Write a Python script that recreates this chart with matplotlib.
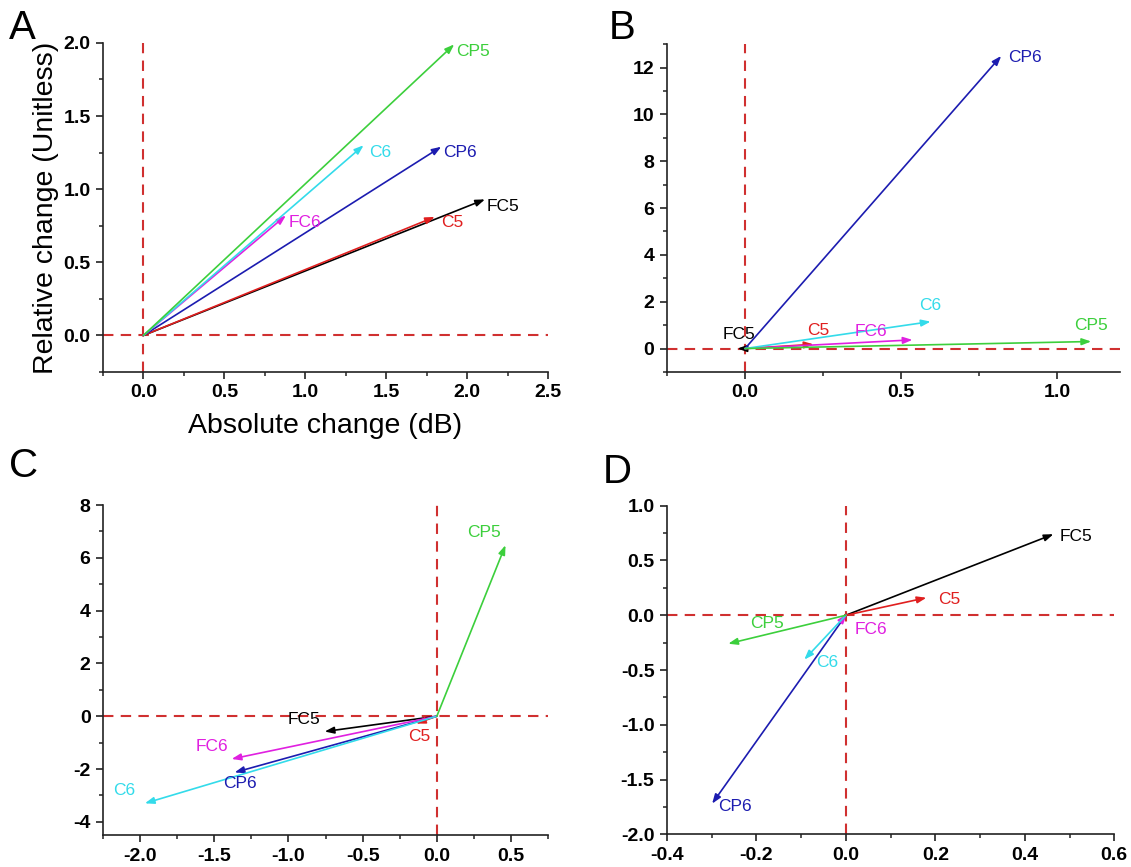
import matplotlib
matplotlib.use('Agg')
import matplotlib.pyplot as plt
from matplotlib.ticker import MultipleLocator, FormatStrFormatter

plt.rcParams['font.family'] = ['Liberation Sans', 'DejaVu Sans']

# vector names and colours (same order in every panel)
names = ['FC5', 'C5', 'CP6', 'FC6', 'C6', 'CP5']
colors = ['black', '#e01f1f', '#1c1cb0', '#e020e0', '#33dbea', '#3ccf3c']

# vector end points (x = absolute change, y = relative change)
a_x = [2.11, 1.80, 1.84, 0.88, 1.36, 1.92]
a_y = [0.93, 0.81, 1.29, 0.82, 1.30, 1.99]

b_x = [-0.024, 0.219, 0.82, 0.536, 0.594, 1.108]
b_y = [0.0, 0.18, 12.5, 0.37, 1.15, 0.30]

c_x = [-0.756, -0.14, -1.363, -1.383, -1.968, 0.463]
c_y = [-0.58, -0.28, -2.13, -1.62, -3.30, 6.48]

d_x = [0.464, 0.18, -0.299, 0.002, -0.093, -0.263]
d_y = [0.74, 0.16, -1.72, 0.01, -0.405, -0.26]

# label offsets in pixels from the arrow tip, and alignment
a_off = [(2, -7, 'left'), (6, -6, 'left'), (2, -6, 'left'), (3, -7, 'left'), (6, -7, 'left'), (2, -7, 'left')]
b_off = [(1, 14, 'center'), (5, 14, 'center'), (7, -2, 'left'), (-42, 8, 'center'), (0, 16, 'center'), (0, 16, 'center')]
c_off = [(-21, 12, 'center'), (3, -13, 'center'), (5, -11, 'center'), (-20, 12, 'center'), (-21, 13, 'center'), (-22, 13, 'center')]
d_off = [(6, -2, 'left'), (12, -2, 'left'), (23, -3, 'center'), (24, -15, 'center'), (23, -3, 'center'), (39, 20, 'center')]

fig = plt.figure(figsize=(11.31, 8.67), dpi=100)

panels = [
    ('A', [0.0911, 0.571, 0.3935, 0.3795], a_x, a_y, a_off, (-0.25, 2.5), (-0.25, 2.0), 0.5, 0.25, 0.5, 0.25, '%.1f', '%.1f'),
    ('B', [0.5897, 0.571, 0.4005, 0.378], b_x, b_y, b_off, (-0.25, 1.2), (-1, 13), 0.5, 0.25, 2, 1, '%.1f', '%d'),
    ('C', [0.0911, 0.0369, 0.3935, 0.3806], c_x, c_y, c_off, (-2.25, 0.75), (-4.5, 8), 0.5, 0.25, 2, 1, '%.1f', '%d'),
    ('D', [0.5897, 0.0377, 0.3955, 0.379], d_x, d_y, d_off, (-0.4, 0.6), (-2.0, 1.0), 0.2, 0.1, 0.5, 0.25, '%.1f', '%.1f'),
]
letter_pos = {'A': (0.008, 0.99), 'B': (0.538, 0.99), 'C': (0.008, 0.484), 'D': (0.533, 0.478)}

for letter, rect, xs, ys, offs, xl, yl, xmaj, xmin, ymaj, ymin, xfmt, yfmt in panels:
    ax = fig.add_axes(rect)
    ax.set_xlim(*xl)
    ax.set_ylim(*yl)
    ax.axhline(0, color='#d03030', lw=1.5, ls=(0, (5, 3.5)), zorder=1)
    ax.axvline(0, color='#d03030', lw=1.5, ls=(0, (5, 3.5)), zorder=1)
    for x, y, n, c, (ox, oy, ha) in zip(xs, ys, names, colors, offs):
        ax.annotate('', xy=(x, y), xytext=(0, 0),
                    arrowprops=dict(arrowstyle='-|>,head_length=0.55,head_width=0.2',
                                    color=c, lw=1.2, shrinkA=0, shrinkB=0), zorder=3)
        ax.annotate(n, xy=(x, y), xytext=(ox, oy), textcoords='offset pixels',
                    ha=ha, va='center', color=c, fontsize=12.5, zorder=4)
    for s in ['top', 'right']:
        ax.spines[s].set_visible(False)
    for s in ['left', 'bottom']:
        ax.spines[s].set_color('#222222')
        ax.spines[s].set_linewidth(1.2)
    ax.xaxis.set_major_locator(MultipleLocator(xmaj))
    ax.xaxis.set_minor_locator(MultipleLocator(xmin))
    ax.yaxis.set_major_locator(MultipleLocator(ymaj))
    ax.yaxis.set_minor_locator(MultipleLocator(ymin))
    ax.xaxis.set_major_formatter(FormatStrFormatter(xfmt))
    ax.yaxis.set_major_formatter(FormatStrFormatter(yfmt))
    ax.tick_params(which='major', direction='out', length=5, width=1.2, color='#222222',
                   labelsize=14, pad=4)
    ax.tick_params(which='minor', direction='out', length=3, width=1.1, color='#222222')
    for lab in ax.get_xticklabels() + ax.get_yticklabels():
        lab.set_fontweight('bold')
    fig.text(letter_pos[letter][0], letter_pos[letter][1], letter, fontsize=29,
             ha='left', va='top')
    if letter == 'A':
        ax.set_xlabel('Absolute change (dB)', fontsize=20.5, labelpad=8)
        ax.set_ylabel('Relative change (Unitless)', fontsize=20.5, labelpad=3)

fig.savefig('out.png', dpi=100)
